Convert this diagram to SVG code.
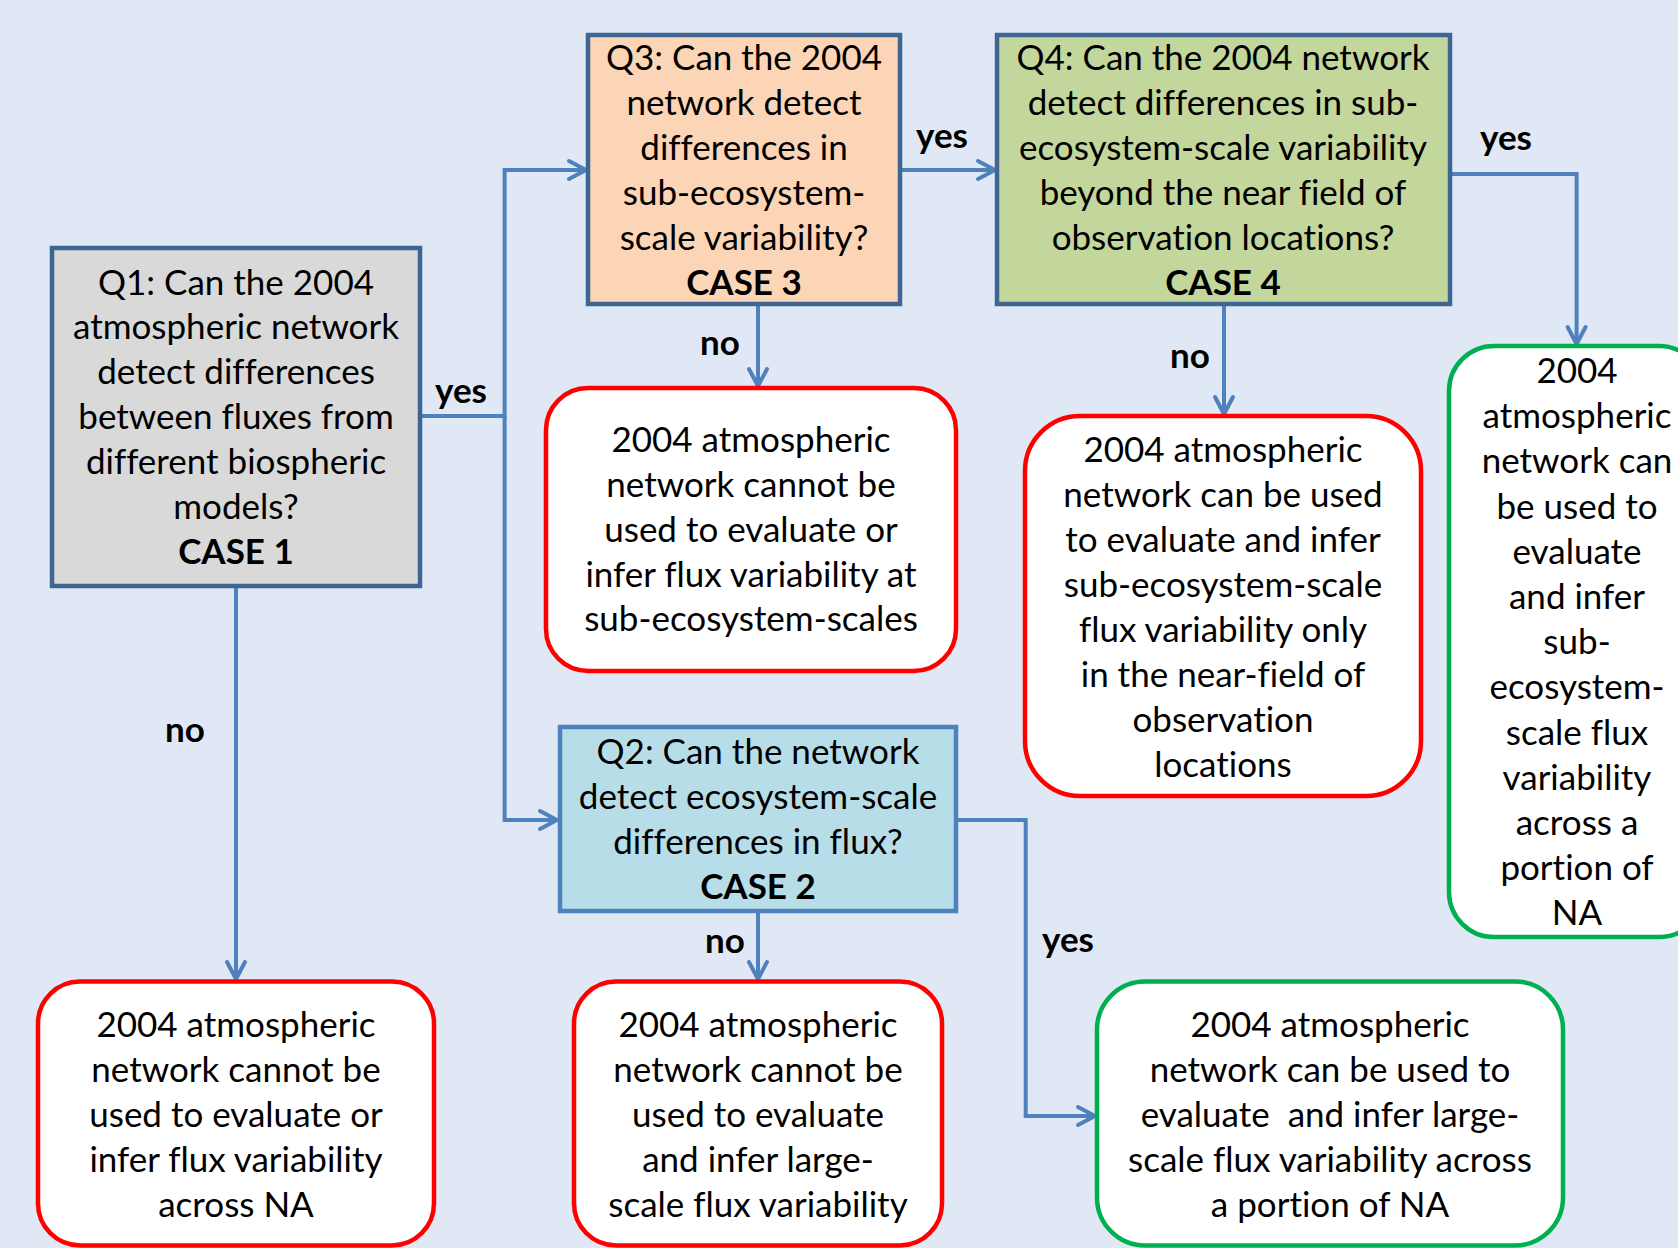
<svg xmlns="http://www.w3.org/2000/svg" width="1678" height="1248" viewBox="0 0 1678 1248">
<defs>
<style>
.bg{fill:#E0E8F5}
.q{stroke:#3F6592;stroke-width:4.5}
.q2{stroke:#4F81BD;stroke-width:4.5}
.red{fill:#FFFFFF;stroke:#FF0000;stroke-width:4.5}
.grn{fill:#FFFFFF;stroke:#00B050;stroke-width:4.5}
.t{font-family:Lato,"Liberation Sans",sans-serif;font-size:35px;fill:#000;text-anchor:middle;font-variant-ligatures:none}
.b{font-weight:bold}
.lbl{font-family:Lato,"Liberation Sans",sans-serif;font-size:35px;font-weight:bold;fill:#000;text-anchor:middle}
.c{fill:none;stroke:#4F81BD;stroke-width:4}
</style>
<marker id="arr" markerUnits="userSpaceOnUse" markerWidth="40" markerHeight="40" refX="0" refY="0" orient="auto" overflow="visible">
<path d="M-17,-9 L0,0 L-17,9" fill="none" stroke="#4F81BD" stroke-width="4" stroke-linecap="round" stroke-linejoin="round"/>
</marker>
</defs>
<rect class="bg" x="0" y="0" width="1678" height="1248"/>

<g id="connectors">
<path class="c" d="M420,416 H504.6 V170 H586" marker-end="url(#arr)"/>
<path class="c" d="M504.6,416 V820 H557" marker-end="url(#arr)"/>
<path class="c" d="M900,170 H995" marker-end="url(#arr)"/>
<path class="c" d="M1450,174 H1576.6 V344" marker-end="url(#arr)"/>
<path class="c" d="M758,305 V386" marker-end="url(#arr)"/>
<path class="c" d="M1224,305 V414" marker-end="url(#arr)"/>
<path class="c" d="M236,586 V979" marker-end="url(#arr)"/>
<path class="c" d="M758,911 V979" marker-end="url(#arr)"/>
<path class="c" d="M956,820 H1025.7 V1116 H1095" marker-end="url(#arr)"/>
<text class="lbl" x="461" y="403">yes</text>
<text class="lbl" x="942" y="148">yes</text>
<text class="lbl" x="1506" y="150">yes</text>
<text class="lbl" x="720" y="355">no</text>
<text class="lbl" x="1190" y="368">no</text>
<text class="lbl" x="185" y="742">no</text>
<text class="lbl" x="725" y="953">no</text>
<text class="lbl" x="1068" y="952">yes</text>
</g>

<g id="q1">
<rect class="q" x="52" y="248" width="368" height="338" fill="#D9D9D9"/>
<text class="t" x="236" y="294.5">Q1: Can the 2004</text>
<text class="t" x="236" y="339.4">atmospheric network</text>
<text class="t" x="236" y="384.3">detect differences</text>
<text class="t" x="236" y="429.2">between fluxes from</text>
<text class="t" x="236" y="474.1">different biospheric</text>
<text class="t" x="236" y="519">models?</text>
<text class="t b" x="236" y="564">CASE 1</text>
</g>

<g id="q3">
<rect class="q" x="588" y="35" width="312" height="269" fill="#FBD5B5"/>
<text class="t" x="744" y="70">Q3: Can the 2004</text>
<text class="t" x="744" y="115">network detect</text>
<text class="t" x="744" y="160">differences in</text>
<text class="t" x="744" y="205">sub-ecosystem-</text>
<text class="t" x="744" y="250">scale variability?</text>
<text class="t b" x="744" y="295">CASE 3</text>
</g>

<g id="q4">
<rect class="q" x="997" y="35" width="453" height="269" fill="#C3D69B"/>
<text class="t" x="1223" y="70">Q4: Can the 2004 network</text>
<text class="t" x="1223" y="115">detect differences in sub-</text>
<text class="t" x="1223" y="160">ecosystem-scale variability</text>
<text class="t" x="1223" y="205">beyond the near field of</text>
<text class="t" x="1223" y="250">observation locations?</text>
<text class="t b" x="1223" y="295">CASE 4</text>
</g>

<g id="q2">
<rect class="q2" x="560" y="727" width="396" height="184" fill="#B7DDE8"/>
<text class="t" x="758" y="764">Q2: Can the network</text>
<text class="t" x="758" y="809">detect ecosystem-scale</text>
<text class="t" x="758" y="854">differences in flux?</text>
<text class="t b" x="758" y="899">CASE 2</text>
</g>

<g id="out3">
<rect class="red" x="546" y="388" width="410" height="283" rx="42"/>
<text class="t" x="751" y="452">2004 atmospheric</text>
<text class="t" x="751" y="497">network cannot be</text>
<text class="t" x="751" y="542">used to evaluate or</text>
<text class="t" x="751" y="586.5">infer flux variability at</text>
<text class="t" x="751" y="631">sub-ecosystem-scales</text>
</g>

<g id="out4">
<rect class="red" x="1025" y="416" width="396" height="380" rx="55"/>
<text class="t" x="1223" y="462">2004 atmospheric</text>
<text class="t" x="1223" y="507">network can be used</text>
<text class="t" x="1223" y="552">to evaluate and infer</text>
<text class="t" x="1223" y="597">sub-ecosystem-scale</text>
<text class="t" x="1223" y="642">flux variability only</text>
<text class="t" x="1223" y="687">in the near-field of</text>
<text class="t" x="1223" y="732">observation</text>
<text class="t" x="1223" y="777">locations</text>
</g>

<g id="out4yes">
<rect class="grn" x="1449" y="346" width="255" height="591" rx="45"/>
<text class="t" x="1577" y="383">2004</text>
<text class="t" x="1577" y="428.2">atmospheric</text>
<text class="t" x="1577" y="473.4">network can</text>
<text class="t" x="1577" y="518.6">be used to</text>
<text class="t" x="1577" y="563.8">evaluate</text>
<text class="t" x="1577" y="609">and infer</text>
<text class="t" x="1577" y="654.2">sub-</text>
<text class="t" x="1577" y="699.4">ecosystem-</text>
<text class="t" x="1577" y="744.6">scale flux</text>
<text class="t" x="1577" y="789.8">variability</text>
<text class="t" x="1577" y="835">across a</text>
<text class="t" x="1577" y="880.2">portion of</text>
<text class="t" x="1577" y="925.4">NA</text>
</g>

<g id="out1">
<rect class="red" x="38" y="981.5" width="396" height="264" rx="42"/>
<text class="t" x="236" y="1037">2004 atmospheric</text>
<text class="t" x="236" y="1082">network cannot be</text>
<text class="t" x="236" y="1127">used to evaluate or</text>
<text class="t" x="236" y="1172">infer flux variability</text>
<text class="t" x="236" y="1217">across NA</text>
</g>

<g id="out2">
<rect class="red" x="574" y="981.5" width="368" height="264" rx="42"/>
<text class="t" x="758" y="1037">2004 atmospheric</text>
<text class="t" x="758" y="1082">network cannot be</text>
<text class="t" x="758" y="1127">used to evaluate</text>
<text class="t" x="758" y="1172">and infer large-</text>
<text class="t" x="758" y="1217">scale flux variability</text>
</g>

<g id="out2yes">
<rect class="grn" x="1097" y="981.5" width="466" height="264" rx="48"/>
<text class="t" x="1330" y="1037">2004 atmospheric</text>
<text class="t" x="1330" y="1082">network can be used to</text>
<text class="t" x="1330" y="1127" xml:space="preserve">evaluate  and infer large-</text>
<text class="t" x="1330" y="1172">scale flux variability across</text>
<text class="t" x="1330" y="1217">a portion of NA</text>
</g>
</svg>
